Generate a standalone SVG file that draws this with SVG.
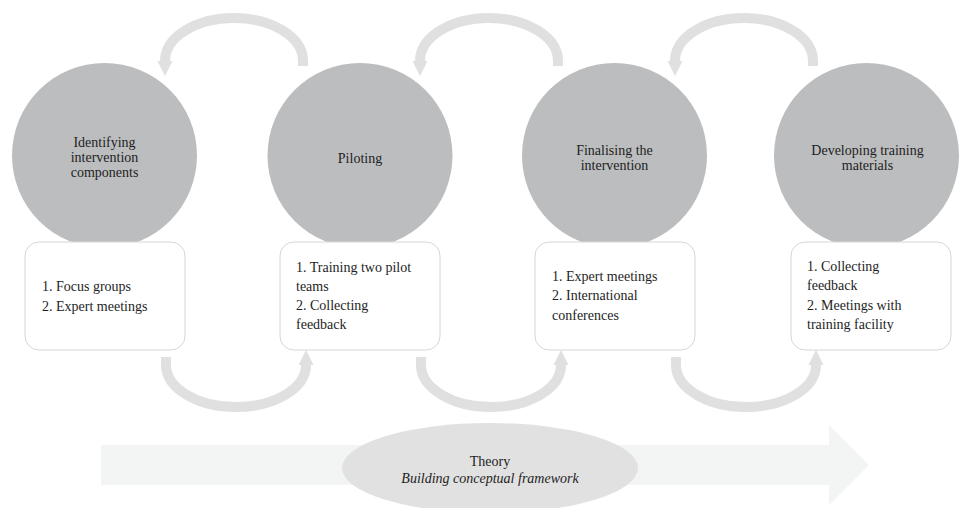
<svg xmlns="http://www.w3.org/2000/svg" width="959" height="508" viewBox="0 0 959 508">
<style>
text{font-family:"Liberation Serif","Times New Roman",serif;font-size:14px;fill:#1e1e1e}
.c{text-anchor:middle}
.circle{fill:#bcbdbf}
.box{fill:#ffffff;stroke:#d6d6d6;stroke-width:1}
.arc{fill:none;stroke:#e0e0e0;stroke-width:10;marker-end:url(#ah)}
</style>
<defs>
<marker id="ah" markerUnits="userSpaceOnUse" markerWidth="20" markerHeight="20" refX="0" refY="0" orient="auto" overflow="visible">
<path d="M0,-7.5 L15,0 L0,7.5 z" fill="#e0e0e0"/>
</marker>
</defs>
<g id="theory">
<polygon points="101,445 829,445 829,425 869,465 829,505 829,485 101,485" fill="#f3f4f4"/>
<ellipse cx="490" cy="468" rx="148" ry="45" fill="#e1e1e1"/>
<text class="c" x="490" y="466">Theory</text>
<text class="c" x="490" y="483" font-style="italic">Building conceptual framework</text>
</g>
<g id="connectors">
<path class="arc" d="M303,66 L303,61 A69,43 0 0 0 165,61"/>
<path class="arc" d="M558,66 L558,61 A69,43 0 0 0 420,61"/>
<path class="arc" d="M813,66 L813,61 A69,43 0 0 0 675,61"/>
<path class="arc" d="M166,357 L166,365 A70,42 0 0 0 306,365"/>
<path class="arc" d="M421,357 L421,365 A70,42 0 0 0 561,365"/>
<path class="arc" d="M676,357 L676,365 A70,42 0 0 0 816,365"/>
</g>
<g id="node1">
<circle class="circle" cx="104.5" cy="155.5" r="92.5"/>
<text class="c" x="104.5" y="146.5">Identifying</text>
<text class="c" x="104.5" y="161.5">intervention</text>
<text class="c" x="104.5" y="176.5">components</text>
<rect class="box" x="25" y="242" width="160" height="108" rx="14"/>
<text x="42" y="291">1. Focus groups</text>
<text x="42" y="310.5">2. Expert meetings</text>
</g>
<g id="node2">
<circle class="circle" cx="360" cy="155.5" r="92.5"/>
<text class="c" x="360" y="163">Piloting</text>
<rect class="box" x="280" y="242" width="160" height="108" rx="14"/>
<text x="296" y="271.5">1. Training two pilot</text>
<text x="296" y="290.5">teams</text>
<text x="296" y="310">2. Collecting</text>
<text x="296" y="328.5">feedback</text>
</g>
<g id="node3">
<circle class="circle" cx="614.5" cy="155.5" r="92.5"/>
<text class="c" x="614.5" y="154.5">Finalising the</text>
<text class="c" x="614.5" y="169.5">intervention</text>
<rect class="box" x="535" y="242" width="160" height="108" rx="14"/>
<text x="552" y="281">1. Expert meetings</text>
<text x="552" y="300">2. International</text>
<text x="552" y="319.5">conferences</text>
</g>
<g id="node4">
<circle class="circle" cx="866.5" cy="155.5" r="92.5"/>
<text class="c" x="867.5" y="155">Developing training</text>
<text class="c" x="867.5" y="169.5">materials</text>
<rect class="box" x="791" y="242" width="160" height="108" rx="14"/>
<text x="807" y="271">1. Collecting</text>
<text x="807" y="290">feedback</text>
<text x="807" y="309.5">2. Meetings with</text>
<text x="807" y="328.5">training facility</text>
</g>
</svg>
